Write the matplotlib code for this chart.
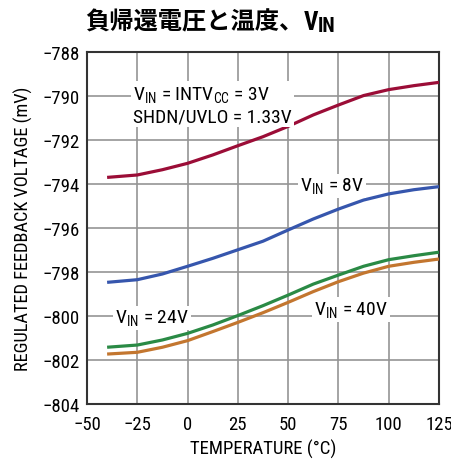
import numpy as np
import matplotlib.pyplot as plt
from matplotlib import font_manager
from matplotlib.transforms import offset_copy

# condensed face if present, otherwise Roboto
names = {f.name for f in font_manager.fontManager.ttflist}
narrow = next((n for n in ['Roboto Condensed', 'Liberation Sans Narrow', 'Roboto']
               if n in names), 'DejaVu Sans')

plt.rcParams['font.family'] = [narrow, 'Noto Sans CJK JP', 'DejaVu Sans']
plt.rcParams['mathtext.fontset'] = 'custom'
plt.rcParams['mathtext.rm'] = narrow
plt.rcParams['mathtext.bf'] = narrow + ':bold'

temp = [-40, -25, -12.5, 0, 12.5, 25, 37.5, 50, 62.5, 75, 87.5, 100, 112.5, 125]
v_3 = [-793.70, -793.59, -793.35, -793.06, -792.68, -792.26, -791.85,
       -791.38, -790.86, -790.41, -789.98, -789.71, -789.53, -789.38]
v_8 = [-798.47, -798.35, -798.09, -797.74, -797.38, -796.99, -796.60,
       -796.09, -795.59, -795.14, -794.73, -794.45, -794.26, -794.12]
v_24 = [-801.42, -801.32, -801.09, -800.79, -800.41, -799.98, -799.53,
        -799.05, -798.55, -798.14, -797.74, -797.44, -797.26, -797.10]
v_40 = [-801.73, -801.65, -801.42, -801.12, -800.71, -800.29, -799.85,
        -799.38, -798.89, -798.44, -798.05, -797.74, -797.56, -797.41]

xticks = [-50, -25, 0, 25, 50, 75, 100, 125]
yticks = [-788, -790, -792, -794, -796, -798, -800, -802, -804]

fig = plt.figure(figsize=(4.52, 4.60), dpi=100)
ax = fig.add_axes([87/452, 55/460, 352/452, 352/460])

lw = 2.3
ax.plot(temp, v_3, color='#9b0d37', lw=lw, solid_capstyle='butt', zorder=3)
ax.plot(temp, v_8, color='#3656ad', lw=lw, solid_capstyle='butt', zorder=3)
ax.plot(temp, v_24, color='#2a8a45', lw=lw, solid_capstyle='butt', zorder=3)
ax.plot(temp, v_40, color='#c3762f', lw=lw, solid_capstyle='butt', zorder=3)

ax.set_xlim(-50, 125)
ax.set_ylim(-804, -788)
ax.set_xticks(xticks)
ax.set_yticks(yticks)
ax.grid(True, color='#959595', lw=1.2)
ax.tick_params(length=0, labelsize=13.5)
ax.tick_params(axis='x', pad=8)
ax.tick_params(axis='y', pad=5)
for s in ax.spines.values():
    s.set_color('#333333')
    s.set_linewidth(1.5)
ax.set_xlabel('TEMPERATURE (°C)', fontsize=13.5, labelpad=4)
ax.set_ylabel('REGULATED FEEDBACK VOLTAGE (mV)', fontsize=13.2, labelpad=7)

box = dict(facecolor='white', edgecolor='none', pad=1.5)
ax.text(-27, -790.4, 'V$_{\\mathregular{IN}}$ = INTV$_{\\mathregular{CC}}$ = 3V\nSHDN/UVLO = 1.33V',
        fontsize=14, va='center', ha='left', linespacing=1.2, bbox=box, zorder=4)
ax.text(56, -794.1, 'V$_{\\mathregular{IN}}$ = 8V', fontsize=14, va='center', ha='left',
        bbox=box, zorder=4)
ax.text(-36, -800.1, 'V$_{\\mathregular{IN}}$ = 24V', fontsize=14, va='center', ha='left',
        bbox=box, zorder=4)
ax.text(63, -799.7, 'V$_{\\mathregular{IN}}$ = 40V', fontsize=14, va='center', ha='left',
        bbox=box, zorder=4)

# title: Japanese part in the CJK face, then V and a large IN subscript
ty = 1 - 22/460
t = fig.text(85/452, ty, '負帰還電圧と温度、', fontsize=17.5, fontweight='bold',
             family='Noto Sans CJK JP', va='center', ha='left')
fig.canvas.draw()
bb = t.get_window_extent().transformed(fig.transFigure.inverted())
v = fig.text(bb.x1, ty - 1/460, 'V', fontsize=18, fontweight='bold',
             va='center', ha='left')
fig.canvas.draw()
bb = v.get_window_extent().transformed(fig.transFigure.inverted())
fig.text(bb.x1, ty - 5/460, 'IN', fontsize=14.5, fontweight='bold',
         va='center', ha='left')

fig.savefig('out.png', dpi=100)
